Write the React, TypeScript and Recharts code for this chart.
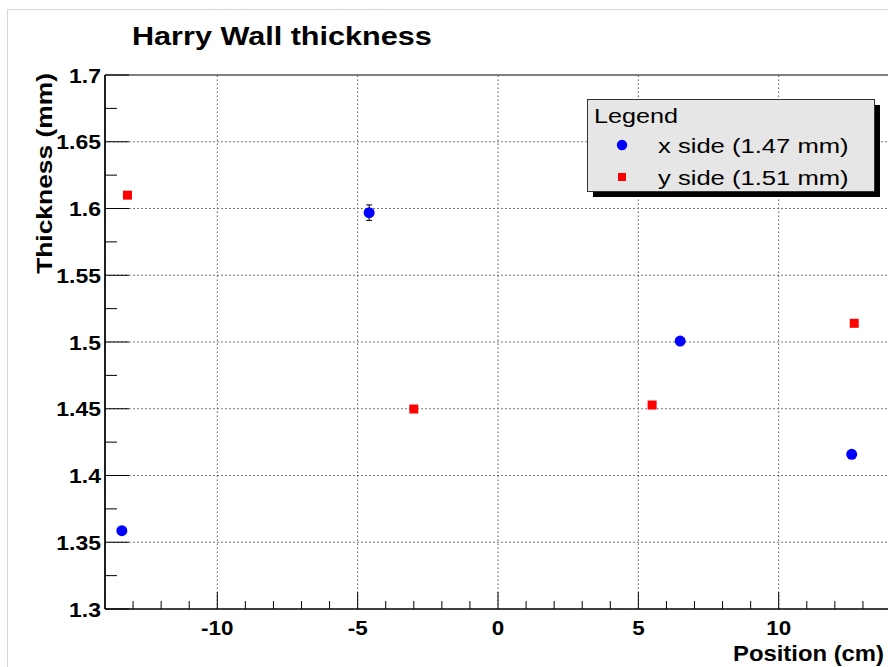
import React from 'react';
import { ScatterChart, Scatter, XAxis, YAxis, ReferenceLine, ReferenceArea, ErrorBar } from 'recharts';

// ---- data ----
const xSidePositions = [-13.4, -4.59, 6.49, 12.6];
const xSideThickness = [1.3587, 1.5969, 1.5007, 1.4159];
const xSideErrors = [0, 0.0058, 0, 0];
const ySidePositions = [-13.2, -3.0, 5.49, 12.69];
const ySideThickness = [1.61, 1.4498, 1.4528, 1.514];

const xMajorTicks = [-10, -5, 0, 5, 10];
const xMinorTicks = [-13, -12, -11, -9, -8, -7, -6, -4, -3, -2, -1, 1, 2, 3, 4, 6, 7, 8, 9, 11, 12, 13];
const yMajorTicks = [1.3, 1.35, 1.4, 1.45, 1.5, 1.55, 1.6, 1.65, 1.7];
const yMinorTicks = [1.325, 1.375, 1.425, 1.475, 1.525, 1.575, 1.625, 1.675];
const xGridValues = [-10, -5, 0, 5, 10];
const yGridValues = [1.35, 1.4, 1.45, 1.5, 1.55, 1.6, 1.65];
const xDomain = [-14, 14];
const yDomain = [1.3, 1.7];

const chartTitle = 'Harry Wall thickness';
const xAxisTitle = 'Position (cm)';
const yAxisTitle = 'Thickness (mm)';
const legendTitle = 'Legend';
const legendLabels = ['x side (1.47 mm)', 'y side (1.51 mm)'];

const xSideData = xSidePositions.map((x, i) => ({ x, y: xSideThickness[i], err: xSideErrors[i] }));
const ySideData = ySidePositions.map((x, i) => ({ x, y: ySideThickness[i] }));
const xTicks = [...xMajorTicks, ...xMinorTicks].sort((a, b) => a - b);
const yTicks = [...yMajorTicks, ...yMinorTicks].sort((a, b) => a - b);

// ---- layout ----
const FONT = '"Liberation Sans", Arial, Helvetica, sans-serif';
const PLOT_LEFT = 105;
const PLOT_BOTTOM = 609;
const BLUE = '#0000ff';
const RED = '#ff0000';

const XTick = (props: any) => {
  const { x, payload } = props;
  const major = xMajorTicks.includes(payload.value);
  return (
    <g>
      <line x1={x} x2={x} y1={PLOT_BOTTOM} y2={PLOT_BOTTOM - (major ? 17 : 8)} stroke="#000" strokeWidth={1} />
      {major && (
        <text
          transform={`translate(${x},634.5) scale(1.12,1)`}
          textAnchor="middle"
          fontSize={20}
          fontWeight="bold"
          fontFamily={FONT}
          fill="#000"
        >
          {String(payload.value)}
        </text>
      )}
    </g>
  );
};

const YTick = (props: any) => {
  const { y, payload } = props;
  const major = yMajorTicks.includes(payload.value);
  return (
    <g>
      <line x1={PLOT_LEFT} x2={PLOT_LEFT + (major ? 24 : 12)} y1={y} y2={y} stroke="#000" strokeWidth={1} />
      {major && (
        <text
          transform={`translate(101,${y + 7.5}) scale(1.12,1)`}
          textAnchor="end"
          fontSize={20.5}
          fontWeight="bold"
          fontFamily={FONT}
          fill="#000"
        >
          {String(payload.value)}
        </text>
      )}
    </g>
  );
};

const CircleShape = (props: any) => <circle cx={props.cx} cy={props.cy} r={5.5} fill={BLUE} />;
const SquareShape = (props: any) => (
  <rect x={props.cx - 4.5} y={props.cy - 4.5} width={9} height={9} fill={RED} />
);

export default function App() {
  return (
    <div style={{ position: 'fixed', left: 0, top: 0, width: 888, height: 667, overflow: 'hidden', background: '#fff' }}>
      <ScatterChart width={900} height={667} margin={{ top: 75, right: 9, left: 45, bottom: 18 }}>
        <XAxis
          type="number"
          dataKey="x"
          domain={xDomain}
          ticks={xTicks}
          interval={0}
          tickLine={false}
          axisLine={{ stroke: '#000', strokeWidth: 1 }}
          tick={XTick}
          height={40}
          allowDataOverflow
        />
        <YAxis
          type="number"
          dataKey="y"
          domain={yDomain}
          ticks={yTicks}
          interval={0}
          tickLine={false}
          axisLine={{ stroke: '#000', strokeWidth: 1.5 }}
          tick={YTick}
          width={60}
          allowDataOverflow
        />
        {xGridValues.map((v) => (
          <ReferenceLine key={'gx' + v} x={v} stroke="#555" strokeDasharray="1.5 2.5" strokeWidth={1} />
        ))}
        {yGridValues.map((v) => (
          <ReferenceLine key={'gy' + v} y={v} stroke="#777" strokeDasharray="2 2" strokeWidth={1} />
        ))}
        <ReferenceArea x1={xDomain[0]} x2={xDomain[1]} y1={yDomain[0]} y2={yDomain[1]} fill="none" stroke="#000" strokeWidth={1} />
        <Scatter data={xSideData} fill={BLUE} shape={CircleShape} isAnimationActive={false}>
          <ErrorBar dataKey="err" direction="y" width={3} stroke="#000" strokeWidth={1} />
        </Scatter>
        <Scatter data={ySideData} fill={RED} shape={SquareShape} isAnimationActive={false} />
      </ScatterChart>
      <svg width={888} height={667} style={{ position: 'absolute', left: 0, top: 0, pointerEvents: 'none' }}>
        <rect x={7.5} y={9.5} width={1000} height={1000} fill="none" stroke="#d6d6d6" strokeWidth={1} />
        <text transform="translate(132,45) scale(1.2,1)" fontSize={25.5} fontWeight="bold" fontFamily={FONT} fill="#000">
          {chartTitle}
        </text>
        <text transform="translate(884,661) scale(1.065,1)" textAnchor="end" fontSize={22.4} fontWeight="bold" fontFamily={FONT} fill="#000">
          {xAxisTitle}
        </text>
        <text transform="translate(52,73) rotate(-90) scale(1.2,1)" textAnchor="end" fontSize={22} fontWeight="bold" fontFamily={FONT} fill="#000">
          {yAxisTitle}
        </text>
        {/* legend */}
        <rect x={593} y={105} width={287} height={92} fill="#000" />
        <rect x={587.5} y={99.5} width={287} height={92} fill="#e6e6e6" stroke="#333" strokeWidth={1} />
        <text transform="translate(594,123) scale(1.2,1)" fontSize={21} fontFamily={FONT} fill="#000">
          {legendTitle}
        </text>
        <circle cx={622} cy={145} r={5.2} fill={BLUE} />
        <text transform="translate(658,153) scale(1.3,1)" fontSize={19.7} fontFamily={FONT} fill="#000">
          {legendLabels[0]}
        </text>
        <rect x={618} y={173} width={8} height={8} fill={RED} />
        <text transform="translate(658,185) scale(1.3,1)" fontSize={19.7} fontFamily={FONT} fill="#000">
          {legendLabels[1]}
        </text>
      </svg>
    </div>
  );
}
